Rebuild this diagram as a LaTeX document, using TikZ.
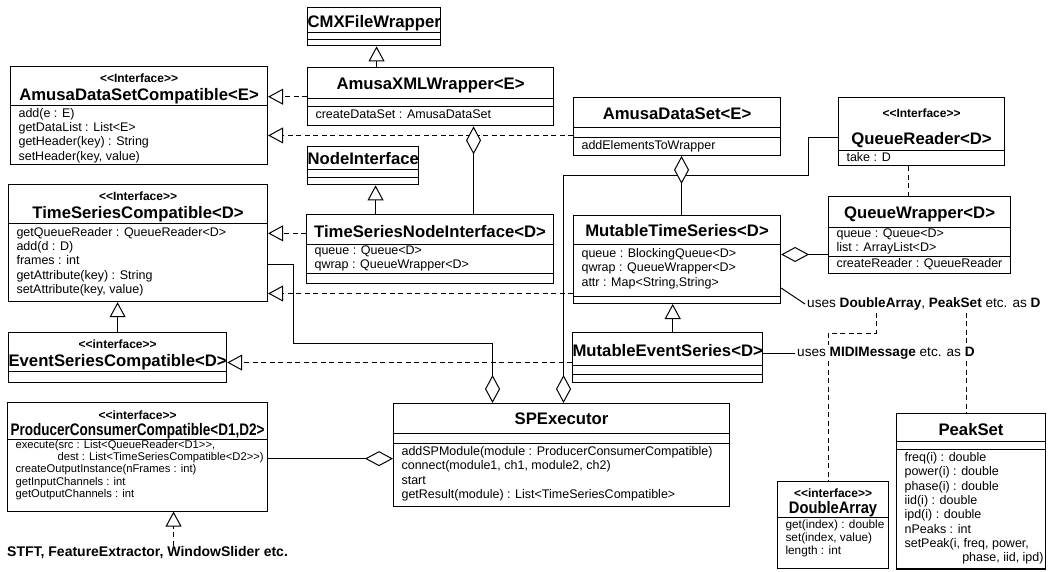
\documentclass[tikz,border=0pt]{standalone}
\usepackage{fontspec}
\setmainfont{Liberation Sans}[Ligatures=TeXOff]
\usepackage{array}
\usepackage{graphicx}
\usetikzlibrary{arrows.meta}
\setlength{\arrayrulewidth}{1pt}
\newcolumntype{M}[1]{@{\hspace{8pt}}p{#1}@{\hspace{2pt}}}
\newcommand{\membfont}{\fontsize{12.5}{14.3}\selectfont}
\newcommand{\clsfont}{\fontsize{16.7}{20}\selectfont\bfseries}
\newcommand{\stereo}{\fontsize{12}{13}\selectfont\bfseries}
\newcommand{\cellstrut}[2]{\rule[-#2pt]{0pt}{\dimexpr#1pt+#2pt\relax}}
\newcommand{\vgap}[1]{\noalign{\vskip#1pt}}
\newcommand{\ttl}[1]{\multicolumn{1}{@{}c@{}}{#1}}

\begin{document}
\begin{tikzpicture}[x=1pt, y=-1pt,
  classbox/.style={draw, line width=1.1pt, inner sep=0pt, anchor=north west, font=\membfont},
  note/.style={inner sep=2pt, anchor=west, font=\fontsize{13.6}{16}\selectfont},
  inherit/.style={line width=1pt, -{Triangle[fill=white, length=15pt, width=16pt]}},
  realize/.style={inherit, dash pattern=on 5pt off 3.5pt},
  aggr/.style={line width=1pt, {Diamond[fill=white, length=28pt, width=15pt]}-},
  depend/.style={line width=1pt, dash pattern=on 5pt off 3.5pt},
  link/.style={line width=1pt}
]
  \path[use as bounding box, fill=white] (0,0) rectangle (1051,572);

  \node[classbox] (cmx) at (307,7) {\begin{tabular}{M{137pt}}\ttl{\cellstrut{20}{4.3}\clsfont CMXFileWrapper}\\\hline\vgap{6}\hline\vgap{6}\end{tabular}};
  \node[classbox] (axml) at (307,67) {\begin{tabular}{M{236pt}}\ttl{\cellstrut{22}{8}\clsfont AmusaXMLWrapper<E>}\\\hline\vgap{7}\hline\vgap{2}createDataSet : AmusaDataSet\\\vgap{3}\end{tabular}};
  \node[classbox] (nodei) at (307,146) {\begin{tabular}{M{118pt}}\ttl{\cellstrut{18}{4.3}\clsfont NodeInterface}\\\hline\vgap{7}\hline\vgap{7}\end{tabular}};
  \node[classbox] (tsni) at (306,214) {\begin{tabular}{M{237pt}}\ttl{\cellstrut{23}{6}\clsfont TimeSeriesNodeInterface<D>}\\\hline queue : Queue<D>\\qwrap : QueueWrapper<D>\\\hline\vgap{9}\end{tabular}};
  \node[classbox] (adsc) at (10,66) {\begin{tabular}{M{247pt}}\ttl{\cellstrut{16}{4.3}\stereo <<Interface>>}\\\ttl{\cellstrut{14}{4.3}\clsfont AmusaDataSetCompatible<E>}\\\hline\vgap{1}add(e : E)\\getDataList : List<E>\\getHeader(key) : String\\setHeader(key, value)\\\end{tabular}};
  \node[classbox] (tsc) at (8,184) {\begin{tabular}{M{249pt}}\ttl{\cellstrut{16}{4.3}\stereo <<Interface>>}\\\ttl{\cellstrut{14}{4.3}\clsfont TimeSeriesCompatible<D>}\\\hline\vgap{2}getQueueReader : QueueReader<D>\\add(d : D)\\frames : int\\getAttribute(key) : String\\setAttribute(key, value)\\\vgap{4}\end{tabular}};
  \node[classbox] (esc) at (8,332) {\begin{tabular}{M{249pt}}\ttl{\cellstrut{16}{4.3}\stereo <<interface>>}\\\ttl{\cellstrut{14}{4.3}\clsfont EventSeriesCompatible<D>}\\\hline\vgap{10}\end{tabular}};
  \node[classbox] (ads) at (573,97) {\begin{tabular}{M{197pt}}\ttl{\cellstrut{22}{7}\clsfont AmusaDataSet<E>}\\\hline\vgap{9}\hline\vgap{1.5}addElementsToWrapper\\\vgap{2}\end{tabular}};
  \node[classbox] (qr) at (838,97) {\begin{tabular}{M{156pt}}\ttl{\cellstrut{20}{4.3}\stereo <<Interface>>}\\\ttl{\cellstrut{22.7}{5}\clsfont QueueReader<D>}\\\hline\vgap{1}take : D\\\end{tabular}};
  \node[classbox] (qw) at (828,196) {\begin{tabular}{M{172pt}}\ttl{\cellstrut{22}{8}\clsfont QueueWrapper<D>}\\\hline queue : Queue<D>\\list : ArrayList<D>\\\hline createReader : QueueReader\\\vgap{2}\end{tabular}};
  \node[classbox] (mts) at (573,215) {\begin{tabular}{M{197pt}}\ttl{\cellstrut{21}{7}\clsfont MutableTimeSeries<D>}\\\hline\vgap{3}queue : BlockingQueue<D>\\qwrap : QueueWrapper<D>\\attr : Map<String,String>\\\vgap{6}\hline\vgap{6}\end{tabular}};
  \node[classbox] (mes) at (572,332) {\begin{tabular}{M{198pt}}\ttl{\cellstrut{24}{8}\clsfont MutableEventSeries<D>}\\\hline\vgap{8}\hline\vgap{8}\end{tabular}};
  \node[classbox] (spx) at (393,403) {\begin{tabular}{M{326pt}}\ttl{\cellstrut{21}{8}\clsfont SPExecutor}\\\hline\vgap{9}\hline\vgap{2}addSPModule(module : ProducerConsumerCompatible)\\connect(module1, ch1, module2, ch2)\\start\\getResult(module) : List<TimeSeriesCompatible>\\\vgap{4}\end{tabular}};
  \node[classbox, font=\fontsize{11.2}{12.2}\selectfont] (pcc) at (7,402) {\begin{tabular}{M{250pt}}\ttl{\cellstrut{17}{3.7}\stereo <<interface>>}\\\ttl{\cellstrut{12}{3.7}\scalebox{0.81}[1]{\clsfont ProducerConsumerCompatible<D1,D2>}}\\\hline execute(src : List<QueueReader<D1>>,\\\hspace*{42pt}dest : List<TimeSeriesCompatible<D2>>)\\createOutputInstance(nFrames : int)\\getInputChannels : int\\getOutputChannels : int\\\vgap{10}\end{tabular}};
  \node[classbox, font=\fontsize{11.8}{13}\selectfont] (dbl) at (777,481) {\begin{tabular}{M{101pt}}\ttl{\cellstrut{16}{3.9}\stereo <<interface>>}\\\ttl{\cellstrut{10}{3.9}\scalebox{0.88}[1]{\clsfont DoubleArray}}\\\hline\vgap{1}get(index) : double\\set(index, value)\\length : int\\\vgap{10}\end{tabular}};
  \node[classbox] (pk) at (896,413) {\begin{tabular}{M{139pt}}\ttl{\cellstrut{22}{5}\clsfont PeakSet}\\\hline\vgap{7}\hline\vgap{2}freq(i) : double\\power(i) : double\\phase(i) : double\\iid(i) : double\\ipd(i) : double\\nPeaks : int\\setPeak(i, freq, power,\\\hfill phase, iid, ipd)\\\vgap{3}\end{tabular}};

  \node[note] (usesda) at (805,304) {uses \textbf{DoubleArray}, \textbf{PeakSet} etc. as \textbf{D}};
  \node[note] (usesmidi) at (795,353) {uses \textbf{MIDIMessage} etc. as \textbf{D}};
  \node[anchor=west, inner sep=1pt, font=\fontsize{14}{16}\selectfont\bfseries] (impls) at (6,553) {STFT, FeatureExtractor, WindowSlider etc.};

  \coordinate (g1) at ([xshift=-54pt]axml.north);
  \coordinate (g2) at ([xshift=-54.5pt]tsni.north);
  \coordinate (g3) at ([xshift=5pt]mes.north);
  \coordinate (r2) at ([yshift=-9pt]ads.west);
  \coordinate (r3) at ([yshift=15.5pt]tsni.west);
  \coordinate (r4) at ([yshift=-34pt]mts.west);
  \coordinate (r5) at ([yshift=-5pt]mes.west);
  \coordinate (a1) at ([xshift=43pt]axml.south);
  \coordinate (a2) at ([xshift=4.5pt]ads.south);
  \coordinate (a3) at ([yshift=5pt]mts.east);
  \coordinate (a4) at ([xshift=2pt]spx.north);
  \coordinate (a5) at ([yshift=-5.5pt]qr.west);
  \coordinate (a6) at ([xshift=-69pt]spx.north);
  \coordinate (a7) at ([yshift=-21pt]tsc.east);
  \coordinate (a8) at ([yshift=-3.5pt]spx.west);
  \coordinate (d1) at ([xshift=-13pt]qr.south);
  \coordinate (d2) at ([xshift=71pt]usesda.south west);
  \coordinate (d3) at (828,333);
  \coordinate (d4) at ([xshift=-4.5pt]pk.north);
  \coordinate (pcctip) at ([xshift=36pt]pcc.south);
  \coordinate (n1) at ([yshift=16pt]mts.south east);

  \draw[realize] (axml.west) -- (axml.west -| adsc.east);
  \draw[realize] (r2) -- (r2 -| adsc.east);
  \draw[realize] (r3) -- (r3 -| tsc.east);
  \draw[realize] (r4) -- (r4 -| tsc.east);
  \draw[realize] (r5) -- (r5 -| esc.east);
  \draw[realize] (pcctip |- impls.north) -- (pcctip);
  \draw[depend] (d1) -- (d1 |- qw.north);
  \draw[depend] (d2) |- (d3) -- (d3 |- usesmidi.north);
  \draw[depend] (d3 |- usesmidi.south) -- (d3 |- dbl.north);
  \draw[depend] (d4 |- usesda.south) -- (d4 |- usesmidi.north);
  \draw[depend] (d4 |- usesmidi.south) -- (d4);
  \draw[inherit] (g1) -- (g1 |- cmx.south);
  \draw[inherit] (g2) -- (g2 |- nodei.south);
  \draw[inherit] (esc.north) -- (esc.north |- tsc.south);
  \draw[inherit] (g3) -- (g3 |- mts.south);
  \draw[link] (n1) -- (usesda.west);
  \draw[link] (usesmidi.west -| mes.east) -- (usesmidi.west);
  \draw[aggr] (a4) |- (808,176) |- (a5);
  \draw[aggr] (a6) |- (293,343) |- (a7);
  \draw[aggr] (a1) -- (a1 |- tsni.north);
  \draw[aggr] (a2) -- (a2 |- mts.north);
  \draw[aggr] (a3) -- (a3 -| qw.west);
  \draw[aggr] (a8) -- (a8 -| pcc.east);
\end{tikzpicture}
\end{document}
